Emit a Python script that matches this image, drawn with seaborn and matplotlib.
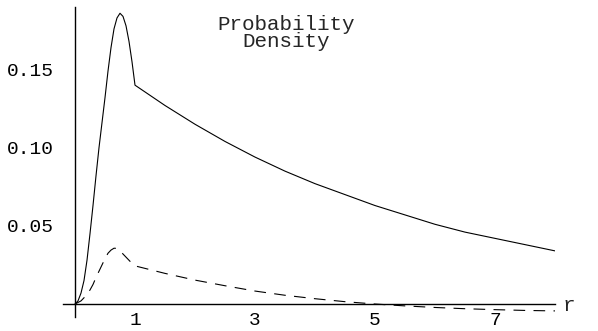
import matplotlib
matplotlib.use("Agg")
import matplotlib.pyplot as plt
import seaborn as sns
import numpy as np

# radius values
r = [0.0, 0.05, 0.1, 0.15, 0.2, 0.25, 0.3, 0.35, 0.4, 0.45, 0.5, 0.55, 0.6, 0.65,
     0.7, 0.75, 0.8, 0.85, 0.9, 0.95, 1.0,
     1.5, 2.0, 2.5, 3.0, 3.5, 4.0, 4.5, 5.0, 5.5, 6.0, 6.5, 7.0, 7.5, 8.0]

# solid curve
density_solid = [0.0, 0.002, 0.007, 0.015, 0.028, 0.045, 0.063, 0.082, 0.100, 0.116, 0.132,
                 0.149, 0.164, 0.176, 0.183, 0.186, 0.184, 0.178, 0.168, 0.155, 0.140,
                 0.127, 0.115, 0.104, 0.094, 0.085, 0.077, 0.070, 0.063, 0.057, 0.051,
                 0.046, 0.042, 0.038, 0.034]

# dashed curve
density_dashed = [0.0, 0.001, 0.002, 0.004, 0.006, 0.009, 0.0125, 0.017, 0.021, 0.025, 0.029,
                  0.0325, 0.0345, 0.0357, 0.0356, 0.034, 0.032, 0.030, 0.028, 0.026, 0.0244,
                  0.0196, 0.0153, 0.0117, 0.0083, 0.0056, 0.0034, 0.0015, 0.0, -0.0012, -0.0022,
                  -0.0030, -0.0036, -0.0041, -0.0044]

x_ticks = [1, 3, 5, 7]
y_ticks = [0.05, 0.10, 0.15]

sns.set_style("white")
plt.rcParams['font.family'] = ['Liberation Mono', 'DejaVu Sans Mono']

W, H = 598, 331
fig = plt.figure(figsize=(W / 100, H / 100), dpi=100)
ax = fig.add_axes([63 / W, (H - 317) / H, (555 - 63) / W, (317 - 7) / H])

sns.lineplot(x=r, y=density_solid, ax=ax, color="black", linewidth=0.8)
sns.lineplot(x=r, y=density_dashed, ax=ax, color="black", linewidth=0.8)
ax.lines[-1].set_dashes((10.5, 7.5))

ax.set_xlim(-0.2, 8.0)
ax.set_ylim(-0.0083, 0.190)

for side in ["top", "right"]:
    ax.spines[side].set_visible(False)
ax.spines["left"].set_position(("data", 0))
ax.spines["bottom"].set_position(("data", 0))
for side in ["left", "bottom"]:
    ax.spines[side].set_linewidth(1.0)
    ax.spines[side].set_color("black")

ax.set_xticks(x_ticks)
ax.set_xticklabels([str(t) for t in x_ticks])
ax.set_yticks(y_ticks)
ax.set_yticklabels([f"{t:.2f}" for t in y_ticks])
ax.tick_params(axis="x", direction="in", length=8, width=0.8, pad=6, labelsize=14, colors="black")
ax.tick_params(axis="y", direction="in", length=8, width=0.8, pad=15, labelsize=14, colors="black")
ax.set_xlabel("")
ax.set_ylabel("")

ax.text(8.12, -0.0045, "r", fontsize=15, ha="left", va="baseline", clip_on=False)
fig.text(0.479, 0.90, "Probability\nDensity", fontsize=15, ha="center", va="center",
         linespacing=0.9)

fig.savefig("out.png", dpi=100)
